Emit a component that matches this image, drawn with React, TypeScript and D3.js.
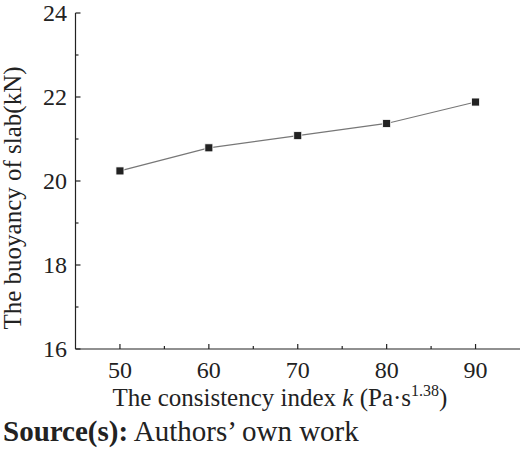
import React from "react";
import * as d3 from "d3";

const kValues = [50, 60, 70, 80, 90];
const buoyancy = [20.24, 20.79, 21.08, 21.37, 21.88];
const xTicks = [50, 60, 70, 80, 90];
const xMinorTicks = [55, 65, 75, 85];
const yTicks = [16, 18, 20, 22, 24];
const yMinorTicks = [17, 19, 21, 23];

const INK = "#222";
const TS = { fontFamily: '"Liberation Serif"' };

export default function App() {
  const x = d3.scaleLinear().domain([45, 95]).range([75.5, 520]);
  const y = d3.scaleLinear().domain([16, 24]).range([349, 13]);
  const pts = kValues.map((k, i) => [k, buoyancy[i]] as [number, number]);
  const line = d3.line<[number, number]>().x((d) => x(d[0])).y((d) => y(d[1]));
  const x0 = x(45);
  const y0 = y(16);

  return (
    <div style={{ position: "absolute", left: 0, top: 0 }}>
      <svg width={520} height={458} style={{ display: "block", background: "#fff" }}>
        <line x1={x0} x2={x(95)} y1={y0} y2={y0} stroke={INK} strokeWidth={1.2} />
        <line x1={x0} x2={x0} y1={y0} y2={y(24)} stroke={INK} strokeWidth={1.2} />
        {xTicks.map((t) => (
          <g key={"xt" + t}>
            <line x1={x(t)} x2={x(t)} y1={y0} y2={y0 - 5} stroke={INK} strokeWidth={1.2} />
            <text x={x(t)} y={378} textAnchor="middle" fontSize={24} fill={INK} style={TS}>{t}</text>
          </g>
        ))}
        {xMinorTicks.map((t) => (
          <line key={"xm" + t} x1={x(t)} x2={x(t)} y1={y0} y2={y0 - 3} stroke={INK} strokeWidth={1.2} />
        ))}
        {yTicks.map((t) => (
          <g key={"yt" + t}>
            <line x1={x0} x2={x0 + 5} y1={y(t)} y2={y(t)} stroke={INK} strokeWidth={1.2} />
            <text x={67} y={y(t) + 8} textAnchor="end" fontSize={24} fill={INK} style={TS}>{t}</text>
          </g>
        ))}
        {yMinorTicks.map((t) => (
          <line key={"ym" + t} x1={x0} x2={x0 + 3} y1={y(t)} y2={y(t)} stroke={INK} strokeWidth={1.2} />
        ))}
        <path d={line(pts) || ""} fill="none" stroke="#777" strokeWidth={1.2} />
        {pts.map((d) => (
          <rect key={"m" + d[0]} x={x(d[0]) - 4} y={y(d[1]) - 4} width={8} height={8}
            fill={INK} stroke="#fff" strokeWidth={0.8} />
        ))}
        <text transform="translate(21,198) rotate(-90)" textAnchor="middle" fontSize={25} fill={INK} style={TS}>
          The buoyancy of slab(kN)
        </text>
        <text x={280} y={406} textAnchor="middle" fontSize={25} fill={INK} style={TS}>
          <tspan>The consistency index </tspan>
          <tspan fontStyle="italic">k</tspan>
          <tspan>{" (Pa\u00b7s"}</tspan>
          <tspan fontSize={16} dy={-10}>1.38</tspan>
          <tspan dy={10}>)</tspan>
        </text>
        <text x={3} y={441} fontSize={29} fill={INK} style={TS}>
          <tspan fontWeight="bold">Source(s):</tspan>
          <tspan>{" Authors\u2019 own work"}</tspan>
        </text>
      </svg>
    </div>
  );
}
